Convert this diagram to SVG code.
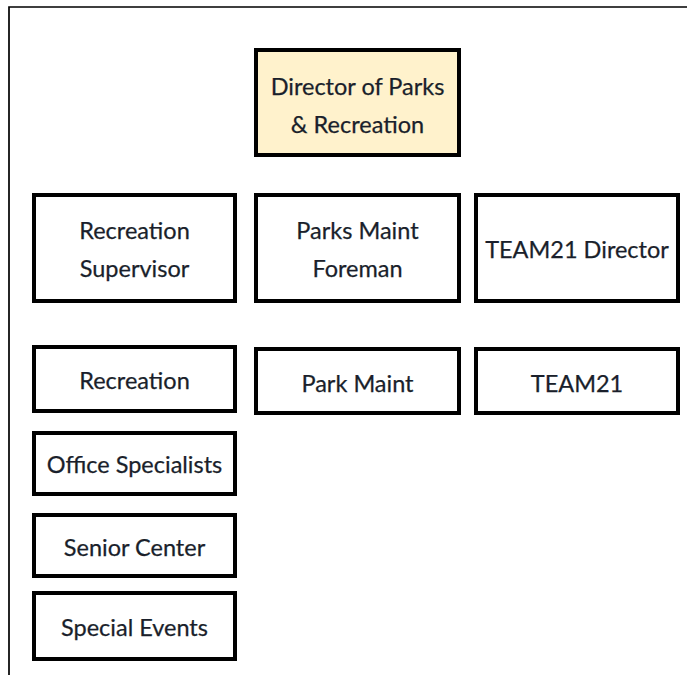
<svg xmlns="http://www.w3.org/2000/svg" width="687" height="675" viewBox="0 0 687 675">
  <style>
    .box { fill: #ffffff; stroke: #000000; stroke-width: 4; }
    .head { fill: #fff2cc; }
    .lbl { font-family: Lato, "Liberation Sans", Arial, sans-serif; font-size: 23.5px; fill: #1a1f2b; stroke: #1a1f2b; stroke-width: 0.25; text-anchor: middle; }
    .frame { fill: none; stroke: #000000; stroke-width: 1.7; }
  </style>

  <!-- page frame -->
  <path class="frame" d="M9,675 V7 H687"/>

  <g id="connectors"/>

  <g id="director">
    <rect class="box head" x="256" y="50" width="203" height="105"/>
    <text class="lbl" x="357.5" y="95">Director of Parks</text>
    <text class="lbl" x="357.5" y="133">&amp; Recreation</text>
  </g>

  <g id="recreation-supervisor">
    <rect class="box" x="34" y="195" width="201" height="106"/>
    <text class="lbl" x="134.5" y="239">Recreation</text>
    <text class="lbl" x="134.5" y="277">Supervisor</text>
  </g>

  <g id="parks-maint-foreman">
    <rect class="box" x="256" y="195" width="203" height="106"/>
    <text class="lbl" x="357.5" y="239">Parks Maint</text>
    <text class="lbl" x="357.5" y="277">Foreman</text>
  </g>

  <g id="team21-director">
    <rect class="box" x="476" y="195" width="202" height="106"/>
    <text class="lbl" x="577" y="258">TEAM21 Director</text>
  </g>

  <g id="recreation">
    <rect class="box" x="34" y="347" width="201" height="64"/>
    <text class="lbl" x="134.5" y="389">Recreation</text>
  </g>

  <g id="park-maint">
    <rect class="box" x="256" y="349" width="203" height="64"/>
    <text class="lbl" x="357.5" y="392">Park Maint</text>
  </g>

  <g id="team21">
    <rect class="box" x="476" y="349" width="202" height="64"/>
    <text class="lbl" x="577" y="392">TEAM21</text>
  </g>

  <g id="office-specialists">
    <rect class="box" x="34" y="433" width="201" height="61"/>
    <text class="lbl" x="134.5" y="473">Office Specialists</text>
  </g>

  <g id="senior-center">
    <rect class="box" x="34" y="515" width="201" height="61"/>
    <text class="lbl" x="134.5" y="556">Senior Center</text>
  </g>

  <g id="special-events">
    <rect class="box" x="34" y="593" width="201" height="66"/>
    <text class="lbl" x="134.5" y="636">Special Events</text>
  </g>
</svg>
